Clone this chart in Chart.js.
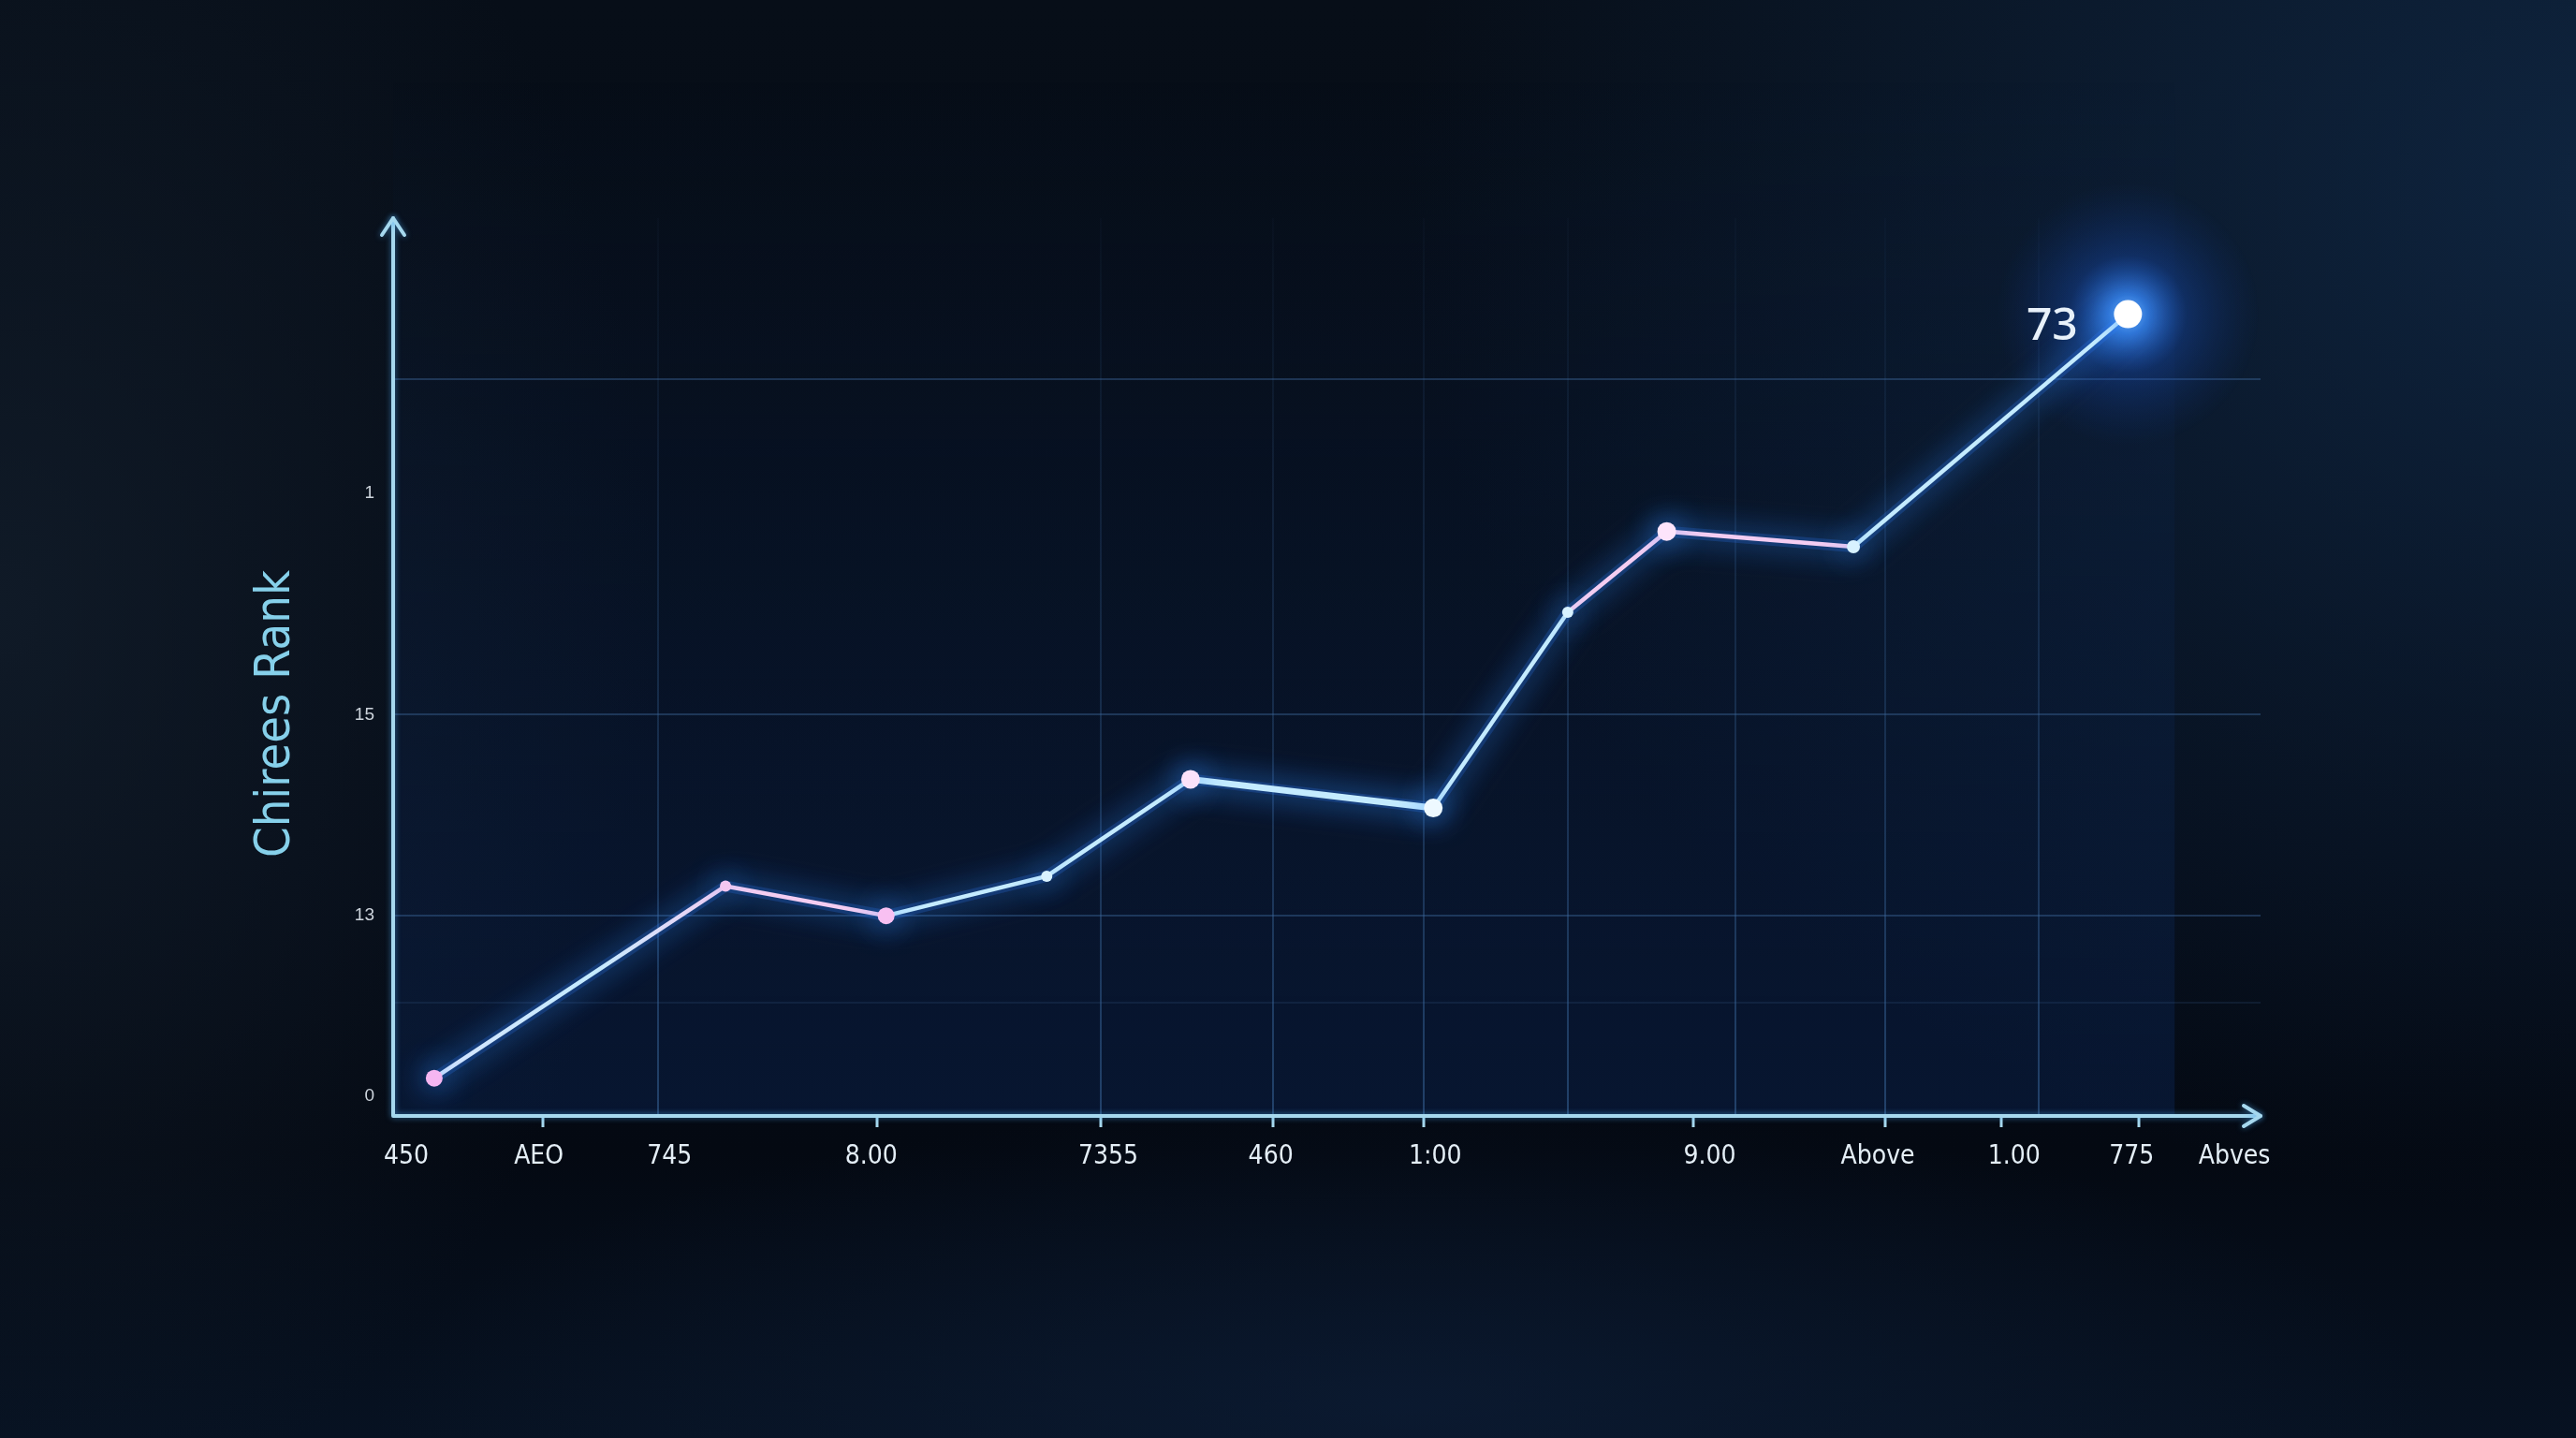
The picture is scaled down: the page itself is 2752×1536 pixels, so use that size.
<!DOCTYPE html>
<html>
<head>
<meta charset="utf-8">
<script src="https://cdn.jsdelivr.net/npm/chart.js@4.4.1/dist/chart.umd.min.js"></script>
<style>
html, body { margin: 0; padding: 0; width: 2752px; height: 1536px; overflow: hidden; }
body {
  background:
    radial-gradient(ellipse 1300px 1100px at 2800px 200px, rgba(18,46,80,0.7), rgba(18,46,80,0) 100%),
    radial-gradient(ellipse 1100px 320px at 1500px 1500px, rgba(14,32,60,0.55), rgba(14,32,60,0) 100%),
    radial-gradient(ellipse 700px 1000px at 0px 650px, rgba(20,32,46,0.7), rgba(20,32,46,0) 100%),
    linear-gradient(180deg, #070e18 0%, #050b16 60%, #040912 80%, #071222 100%);
}
canvas { display: block; }
</style>
</head>
<body>
<canvas id="grafico" width="2752" height="1536"></canvas>
<script>
// ---------------- DATOS ----------------
const puntosX = [2.2, 17.8, 26.4, 35.0, 42.7, 55.7, 62.9, 68.2, 78.2, 92.9];
const puntosY = [4.2, 25.6, 22.3, 26.7, 37.5, 34.3, 56.1, 65.1, 63.4, 89.3];

const etiquetasX = ["450", "AEO", "745", "8.00", "7355", "460", "1:00", "9.00", "Above", "1.00", "775", "Abves"];
const posEtiquetasX = [0.7, 7.8, 14.8, 25.6, 38.3, 47.0, 55.8, 70.5, 79.5, 86.8, 93.1, 98.6];
const marcasX = [8.0, 25.9, 37.9, 47.1, 55.2, 69.6, 79.9, 86.1, 93.5];
const rejillaX = [14.2, 37.9, 47.1, 55.2, 62.9, 71.9, 79.9, 88.1];

const etiquetasY = ["0", "13", "15", "1"];
const posEtiquetasY = [2.2, 22.3, 44.7, 69.4];
const rejillaY = [12.6, 22.3, 44.7, 82.1];

const valorDestacado = "73";
const tituloY = "Chirees Rank";

// ---------------- ESTILO ----------------
const CIAN = "#c4ebff";
const ROSA = "#f4cdf2";
const EJE = "#a6d8ee";
const tramosRosa = [1, 6, 7];
const radios = [9, 6, 9, 6, 10, 10, 6, 10, 7, 15];
const coloresPunto = ["#f5b6f1", "#f3c6f0", "#f8c0f2", "#d8f2ff", "#fbe2fa", "#eef9ff", "#d8f2ff", "#fde4fb", "#d8f2ff", "#ffffff"];
const FUENTE_ESTRECHA = "'Liberation Sans Narrow', 'DejaVu Sans Condensed', 'Roboto', sans-serif";

function juntarTicks(grupos) {
  const mapa = new Map();
  grupos.forEach(([lista, campo, textos]) => {
    lista.forEach((v, i) => {
      const k = v.toFixed(1);
      const t = mapa.get(k) || { value: v };
      t[campo] = textos ? textos[i] : true;
      mapa.set(k, t);
    });
  });
  return [...mapa.values()].sort((a, b) => a.value - b.value);
}

const ticksX = juntarTicks([[posEtiquetasX, "texto", etiquetasX], [marcasX, "marca"], [rejillaX, "rejilla"]]);
const ticksY = juntarTicks([[posEtiquetasY, "texto", etiquetasY], [rejillaY, "rejilla"]]);
const serie = () => puntosX.map((x, i) => ({ x, y: puntosY[i] }));

function gradVertical(chart, a, b) {
  const area = chart.chartArea;
  if (!area) return a;
  const g = chart.ctx.createLinearGradient(0, area.top, 0, area.bottom);
  g.addColorStop(0, a);
  g.addColorStop(1, b);
  return g;
}

// ---------------- DECORACION ----------------
const brillo = {
  id: "brillo",
  beforeDraw(chart) {
    const { ctx, chartArea: a, scales } = chart;
    const fin = scales.x.getPixelForValue(95.4);
    const g = ctx.createLinearGradient(0, a.top - 150, 0, a.bottom);
    g.addColorStop(0, "rgba(14,40,84,0)");
    g.addColorStop(0.5, "rgba(14,40,84,0.24)");
    g.addColorStop(1, "rgba(12,38,86,0.45)");
    ctx.save();
    ctx.fillStyle = g;
    ctx.fillRect(a.left, a.top - 150, fin - a.left, a.bottom - a.top + 150);
    ctx.restore();
  },
  beforeDatasetsDraw(chart) {
    const ctx = chart.ctx;
    const p = chart.getDatasetMeta(0).data[puntosX.length - 1];
    const g = ctx.createRadialGradient(p.x, p.y, 0, p.x, p.y, 140);
    g.addColorStop(0, "rgba(150,205,255,0.95)");
    g.addColorStop(0.15, "rgba(60,140,255,0.75)");
    g.addColorStop(0.45, "rgba(30,95,225,0.28)");
    g.addColorStop(1, "rgba(20,60,160,0)");
    ctx.save();
    ctx.fillStyle = g;
    ctx.beginPath();
    ctx.arc(p.x, p.y, 140, 0, Math.PI * 2);
    ctx.fill();
    ctx.restore();
  },
  beforeDatasetDraw(chart) {
    const ctx = chart.ctx;
    ctx.save();
    ctx.shadowColor = "rgba(50,140,255,1)";
    ctx.shadowBlur = 32;
  },
  afterDatasetDraw(chart) {
    chart.ctx.restore();
  },
  afterDraw(chart) {
    const { ctx, chartArea: a } = chart;
    ctx.save();
    ctx.strokeStyle = EJE;
    ctx.lineWidth = 4;
    ctx.lineCap = "round";
    ctx.lineJoin = "round";
    ctx.shadowColor = "rgba(80,170,240,0.6)";
    ctx.shadowBlur = 6;
    // ejes
    ctx.beginPath();
    ctx.moveTo(a.left, a.top);
    ctx.lineTo(a.left, a.bottom);
    ctx.lineTo(a.right, a.bottom);
    ctx.stroke();
    // flechas
    ctx.beginPath();
    ctx.moveTo(a.left - 12, a.top + 18);
    ctx.lineTo(a.left, a.top);
    ctx.lineTo(a.left + 12, a.top + 18);
    ctx.moveTo(a.right - 18, a.bottom - 11);
    ctx.lineTo(a.right, a.bottom);
    ctx.lineTo(a.right - 18, a.bottom + 11);
    ctx.stroke();
    ctx.shadowBlur = 0;

    // titulo eje Y
    ctx.translate(a.left - 125, (a.top + a.bottom) / 2 + 50);
    ctx.rotate(-Math.PI / 2);
    ctx.fillStyle = "#86d0ea";
    ctx.font = "52px " + FUENTE_ESTRECHA;
    ctx.textAlign = "center";
    ctx.textBaseline = "middle";
    ctx.fillText(tituloY, 0, 0);
    ctx.restore();

    // valor destacado
    const p = chart.getDatasetMeta(0).data[puntosX.length - 1];
    ctx.save();
    ctx.fillStyle = "#e8f1fa";
    ctx.font = "500 48px 'Noto Sans', sans-serif";
    ctx.textAlign = "center";
    ctx.textBaseline = "middle";
    ctx.fillText(valorDestacado, p.x - 81, p.y + 14);
    ctx.restore();
  }
};

// ---------------- GRAFICO ----------------
new Chart(document.getElementById("grafico"), {
  type: "line",
  data: {
    datasets: [{
      // linea principal
      data: serie(),
      borderColor: CIAN,
      borderWidth: 4.5,
      tension: 0,
      pointRadius: radios,
      pointBackgroundColor: coloresPunto,
      pointBorderWidth: 0,
      fill: false,
      segment: {
        borderColor: ctx => {
          const i = ctx.p0DataIndex;
          if (i === 0) {
            const g = ctx.chart.ctx.createLinearGradient(ctx.p0.x, ctx.p0.y, ctx.p1.x, ctx.p1.y);
            g.addColorStop(0, "#d6e4ff");
            g.addColorStop(0.55, CIAN);
            g.addColorStop(1, ROSA);
            return g;
          }
          return tramosRosa.includes(i) ? ROSA : CIAN;
        },
        borderWidth: ctx => ctx.p0DataIndex === 4 ? 7 : 4.5
      }
    }, {
      // halo azul
      data: serie(),
      borderColor: "rgba(45,125,255,0.22)",
      borderWidth: 12,
      tension: 0,
      pointRadius: 0,
      fill: false
    }]
  },
  options: {
    responsive: false,
    devicePixelRatio: 1,
    animation: false,
    clip: false,
    layout: { padding: { left: 300, right: 337, top: 233, bottom: 264 } },
    plugins: { legend: { display: false }, tooltip: { enabled: false } },
    scales: {
      x: {
        type: "linear",
        min: 0,
        max: 100,
        afterBuildTicks: axis => { axis.ticks = ticksX.map(t => ({ value: t.value })); },
        afterFit: scale => { scale.height = 80; },
        border: { display: false },
        grid: {
          drawTicks: true,
          tickLength: 12,
          tickWidth: 3,
          lineWidth: 2,
          color: ctx => ticksX[ctx.index] && ticksX[ctx.index].rejilla
            ? gradVertical(ctx.chart, "rgba(70,120,180,0.03)", "rgba(70,125,185,0.42)")
            : "rgba(0,0,0,0)",
          tickColor: ctx => ticksX[ctx.index] && ticksX[ctx.index].marca ? EJE : "rgba(0,0,0,0)"
        },
        ticks: {
          autoSkip: false,
          maxRotation: 0,
          padding: 15,
          color: "#e4eef6",
          font: { family: FUENTE_ESTRECHA, size: 28 },
          callback: (v, i) => (ticksX[i] && ticksX[i].texto) || ""
        }
      },
      y: {
        type: "linear",
        min: 0,
        max: 100,
        afterBuildTicks: axis => { axis.ticks = ticksY.map(t => ({ value: t.value })); },
        afterFit: scale => { scale.width = 120; },
        border: { display: false },
        grid: {
          drawTicks: false,
          lineWidth: 2,
          color: ctx => {
            const t = ticksY[ctx.index];
            if (!t || !t.rejilla) return "rgba(0,0,0,0)";
            return t.value < 15 ? "rgba(60,100,150,0.18)" : "rgba(62,105,158,0.42)";
          }
        },
        ticks: {
          autoSkip: false,
          padding: 20,
          color: "#cdd4dc",
          font: { family: "'Liberation Sans', Arial, sans-serif", size: 19 },
          callback: (v, i) => (ticksY[i] && ticksY[i].texto) || ""
        }
      }
    }
  },
  plugins: [brillo]
});
</script>
</body>
</html>
